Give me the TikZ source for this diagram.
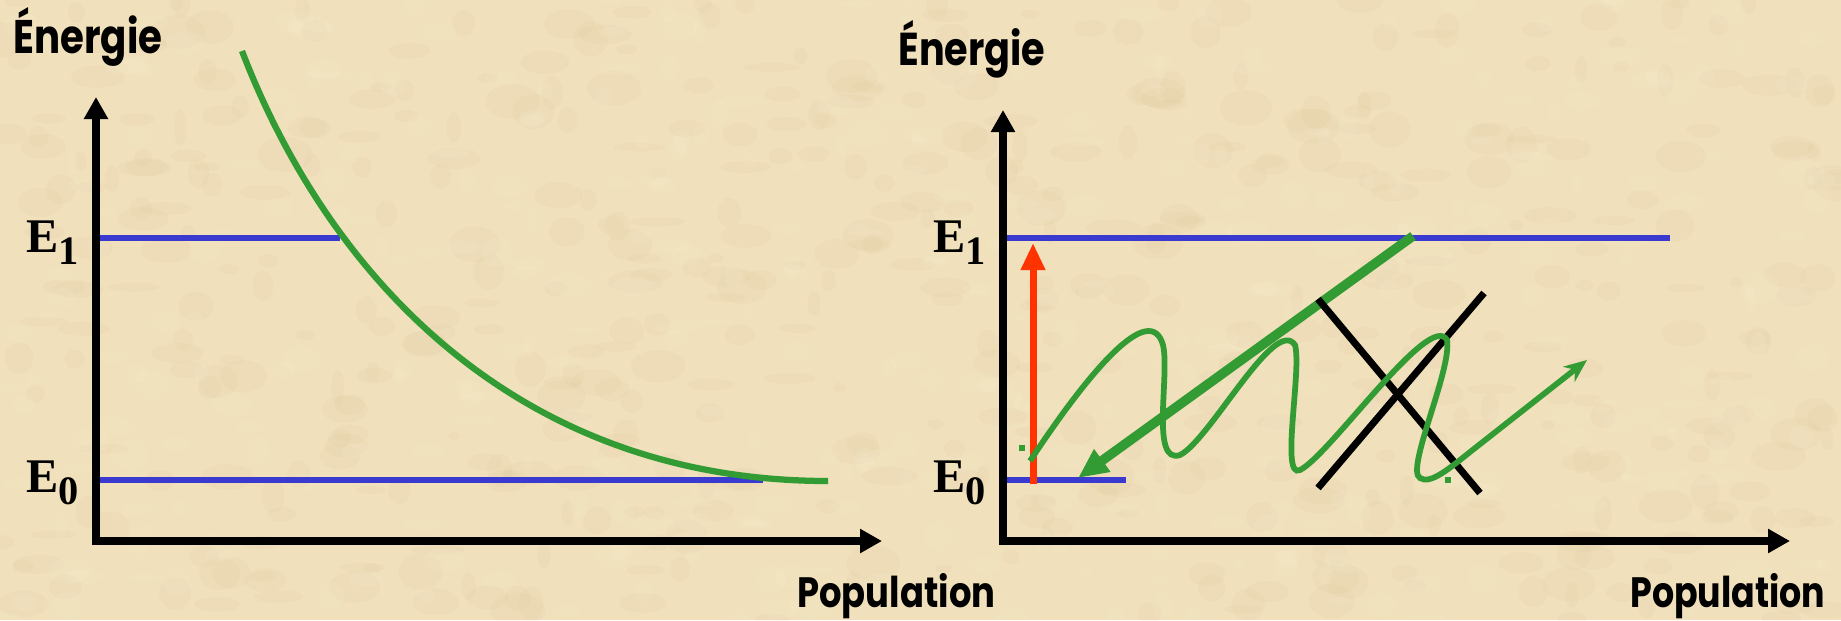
\documentclass[tikz,border=0pt]{standalone}
\usepackage{fontspec}
\usepackage{graphicx}
\usetikzlibrary{arrows.meta}
\newfontfamily\comic{Poppins}
\newfontfamily\timesf{Liberation Serif}
\newlength\pxu \setlength\pxu{0.02cm}
\definecolor{bg}{RGB}{240,224,187}
\definecolor{bgdark}{RGB}{210,184,140}
\definecolor{bglight}{RGB}{250,240,212}
\definecolor{lvlblue}{RGB}{58,58,208}
\definecolor{curvegreen}{RGB}{50,155,52}
\definecolor{exred}{RGB}{255,51,0}
\tikzset{
  axisline/.style={line width=0.16cm, -{Triangle[length=0.44cm,width=0.46cm]}},
  level/.style={lvlblue, line width=0.12cm},
  decay/.style={curvegreen, line width=0.125cm},
  excite/.style={exred, line width=0.14cm, -{Triangle[length=0.54cm,width=0.46cm]}},
  relax/.style={curvegreen, line width=0.19cm, -{Triangle[length=0.6cm,width=0.52cm]}},
  squig/.style={curvegreen, line width=0.115cm, -{Stealth[length=0.46cm,width=0.38cm]}},
  cross/.style={black, line width=0.14cm},
  lbl/.style={inner sep=0pt, anchor=base west},
}
\newcommand\elabel[1]{{\timesf\bfseries\fontsize{27.5}{30}\selectfont E\raisebox{-7pt}{\fontsize{23}{25}\selectfont #1}}}
\begin{document}
\begin{tikzpicture}[x=0.02cm, y=-0.02cm]
\useasboundingbox (0,0) rectangle (1841,620);
\fill[bg] (0,0) rectangle (1841,620);
\pgfmathsetseed{11}
\foreach \i in {1,...,500}{
  \pgfmathsetmacro\xx{rnd*1841}
  \pgfmathsetmacro\yy{rnd*620}
  \pgfmathsetmacro\ra{6+rnd*22}
  \pgfmathsetmacro\rb{4+rnd*14}
  \fill[bgdark, opacity=0.08] (\xx,\yy) ellipse [x radius=\ra, y radius=\rb];
}
\foreach \i in {1,...,400}{
  \pgfmathsetmacro\xx{rnd*1841}
  \pgfmathsetmacro\yy{rnd*620}
  \pgfmathsetmacro\ra{5+rnd*18}
  \pgfmathsetmacro\rb{3+rnd*12}
  \fill[bglight, opacity=0.14] (\xx,\yy) ellipse [x radius=\ra, y radius=\rb];
}

% ---------- left panel ----------
\coordinate (lo) at (96,541);
\coordinate (ly) at (96,97);
\coordinate (lx) at (882,541);
\coordinate (le1a) at (96,238);
\coordinate (le1b) at (340,238);
\coordinate (le0a) at (96,480);
\coordinate (le0b) at (763,480);
\coordinate (cs) at (242,51);
\coordinate (ce) at (828,481);

\draw[level] (le1a) -- (le1b);
\draw[level] (le0a) -- (le0b);
\draw[decay] (cs) .. controls (330,280) and (520,481) .. (ce);
\draw[axisline] ([yshift=-0.08cm]lo) -- (ly);
\draw[axisline] (lo) -- (lx);

\node[lbl] (lenergie) at (13,53) {\comic\bfseries\resizebox{149\pxu}{46\pxu}{Énergie}};
\node[lbl] (lpop) at (797,607) {\comic\bfseries\resizebox{198\pxu}{34\pxu}{Population}};
\node[lbl] (le1) at (26,252) {\elabel{1}};
\node[lbl] (le0) at (26,492) {\elabel{0}};

% ---------- right panel ----------
\coordinate (ro) at (1003,541);
\coordinate (ry) at (1003,110);
\coordinate (rx) at (1790,541);
\coordinate (re1a) at (1003,238);
\coordinate (re1b) at (1670,238);
\coordinate (re0a) at (1003,480);
\coordinate (re0b) at (1126,480);
\coordinate (ra) at (1033,484);
\coordinate (rb) at (1033,243);
\coordinate (ga) at (1413,236);
\coordinate (gb) at (1078,478);
\coordinate (xa) at (1318,299);
\coordinate (xb) at (1480,493);
\coordinate (xc) at (1484,293);
\coordinate (xd) at (1318,488);
\coordinate (s0) at (1030,461);
\coordinate (s1) at (1587,360);

\draw[level] (re1a) -- (re1b);
\draw[level] (re0a) -- (re0b);
\draw[excite] (ra) -- (rb);
\draw[relax] (ga) -- (gb);
\draw[cross] (xa) -- (xb);
\draw[cross] (xc) -- (xd);
\draw[squig] (s0) .. controls (1090,370) and (1150,300) .. (1163,345)
  .. controls (1170,375) and (1150,465) .. (1180,455)
  .. controls (1210,440) and (1275,315) .. (1295,345)
  .. controls (1302,370) and (1280,480) .. (1300,470)
  .. controls (1330,455) and (1430,310) .. (1447,340)
  .. controls (1452,370) and (1405,470) .. (1420,478)
  .. controls (1430,485) and (1450,468) .. (1470,452)
  -- (s1);
\fill[curvegreen] (1019,445) rectangle (1025,451);
\fill[curvegreen] (1445,477) rectangle (1451,483);
\draw[axisline] ([yshift=-0.08cm]ro) -- (ry);
\draw[axisline] (ro) -- (rx);

\node[lbl] (renergie) at (898,65) {\comic\bfseries\resizebox{147\pxu}{45\pxu}{Énergie}};
\node[lbl] (rpop) at (1630,607) {\comic\bfseries\resizebox{195\pxu}{34\pxu}{Population}};
\node[lbl] (re1) at (933,252) {\elabel{1}};
\node[lbl] (re0) at (933,492) {\elabel{0}};
\end{tikzpicture}
\end{document}
